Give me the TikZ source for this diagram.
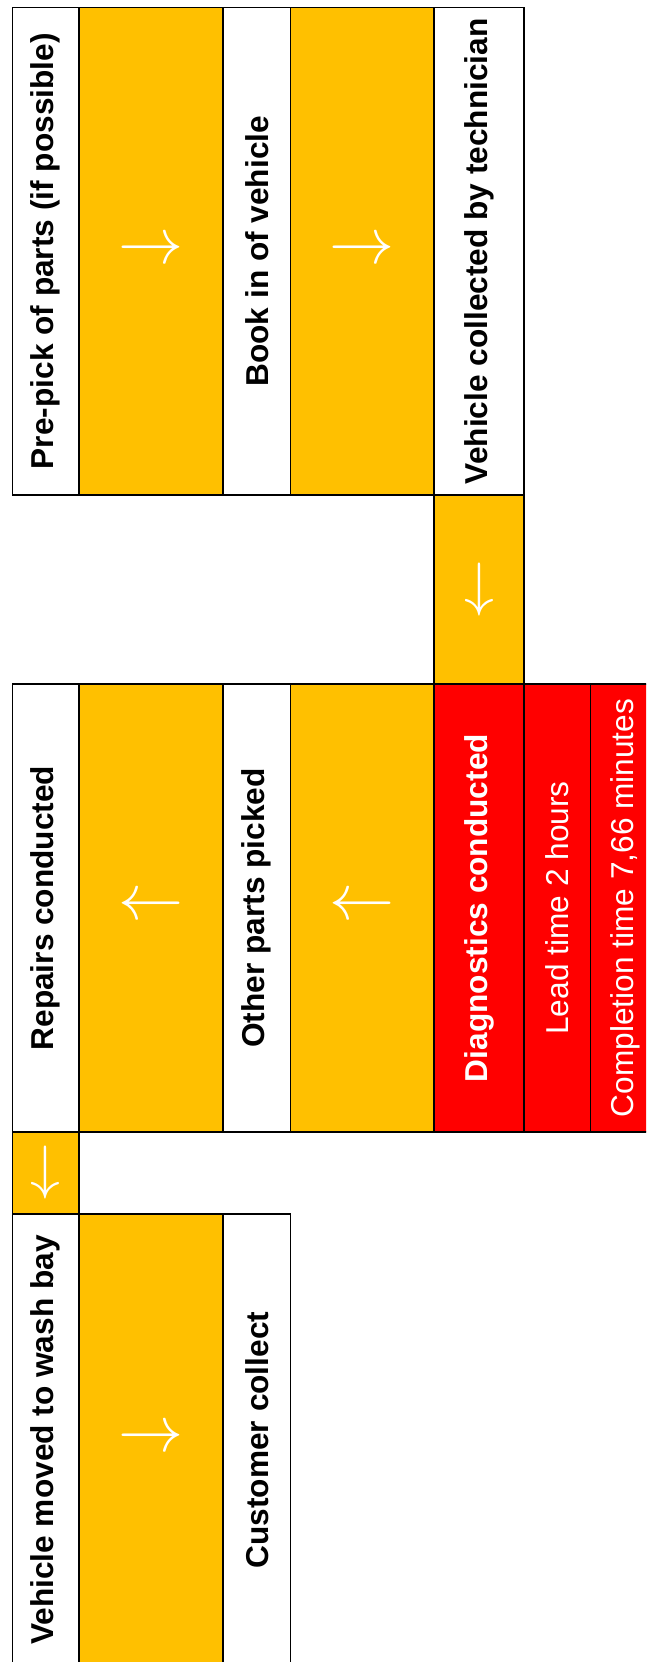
\RequirePackage{fix-cm}
\documentclass[tikz,border=0pt]{standalone}
\usepackage{fontspec}
\setmainfont{Liberation Sans}
\usetikzlibrary{positioning}
\definecolor{gold}{HTML}{FFC000}
\definecolor{alarm}{HTML}{FF0000}

\begin{document}
\begin{tikzpicture}[node distance=0pt,
  cell/.style={draw, line width=1.1pt, inner sep=0pt, outer sep=0pt, anchor=north west},
  task/.style={cell, fill=white, font=\fontsize{18}{21}\selectfont\bfseries},
  hot/.style={cell, fill=alarm, text=white, font=\fontsize{18}{21}\selectfont},
  flow/.style={cell, fill=gold, text=white, font=\fontsize{37}{37}\selectfont},
  drop/.style={flow, font=\fontsize{34}{34}\selectfont}]

  \useasboundingbox (0,0) rectangle (12.92,-33.24);
  \clip (0,0) rectangle (12.92,-33.24);

  \node[task, minimum width=1.33cm, minimum height=9.75cm] (prepick) at (0.25,-0.15) {\rotatebox{90}{Pre-pick of parts (if possible)}};
  \node[flow, minimum width=2.88cm, minimum height=9.75cm, right=of prepick] (f1) {\raisebox{-.18cm}{$\rightarrow$}};
  \node[task, minimum width=1.35cm, minimum height=9.75cm, right=of f1] (bookin) {\rotatebox{90}{Book in of vehicle}};
  \node[flow, minimum width=2.87cm, minimum height=9.75cm, right=of bookin] (f2) {\raisebox{-.18cm}{$\rightarrow$}};
  \node[task, minimum width=1.8cm, minimum height=9.75cm, right=of f2] (collected) {\rotatebox{90}{Vehicle collected by technician}};

  \node[drop, minimum width=1.8cm, minimum height=3.78cm, below=of collected] (d1) {$\downarrow$};

  \node[hot, minimum width=1.8cm, minimum height=8.96cm, below=of d1, font=\fontsize{18}{21}\selectfont\bfseries] (diag) {\rotatebox{90}{Diagnostics conducted}};
  \node[hot, minimum width=1.33cm, minimum height=8.96cm, right=of diag] (lead) {\rotatebox{90}{Lead time 2 hours}};
  \node[hot, minimum width=1.4cm, minimum height=8.96cm, right=of lead] (completion) {\rotatebox{90}{Completion time 7,66 minutes}};
  \node[flow, minimum width=2.87cm, minimum height=8.96cm, left=of diag] (f3) {\raisebox{-.18cm}{$\leftarrow$}};
  \node[task, minimum width=1.35cm, minimum height=8.96cm, left=of f3] (otherparts) {\rotatebox{90}{Other parts picked}};
  \node[flow, minimum width=2.88cm, minimum height=8.96cm, left=of otherparts] (f4) {\raisebox{-.18cm}{$\leftarrow$}};
  \node[task, minimum width=1.33cm, minimum height=8.96cm, left=of f4] (repairs) {\rotatebox{90}{Repairs conducted}};

  \node[drop, minimum width=1.33cm, minimum height=1.64cm, below=of repairs] (d2) {$\downarrow$};

  \node[task, minimum width=1.33cm, minimum height=9.04cm, below=of d2] (washbay) {\rotatebox{90}{Vehicle moved to wash bay}};
  \node[flow, minimum width=2.88cm, minimum height=9.04cm, right=of washbay] (f5) {\raisebox{-.18cm}{$\rightarrow$}};
  \node[task, minimum width=1.35cm, minimum height=9.04cm, right=of f5] (customer) {\rotatebox{90}{Customer collect}};

\end{tikzpicture}
\end{document}
